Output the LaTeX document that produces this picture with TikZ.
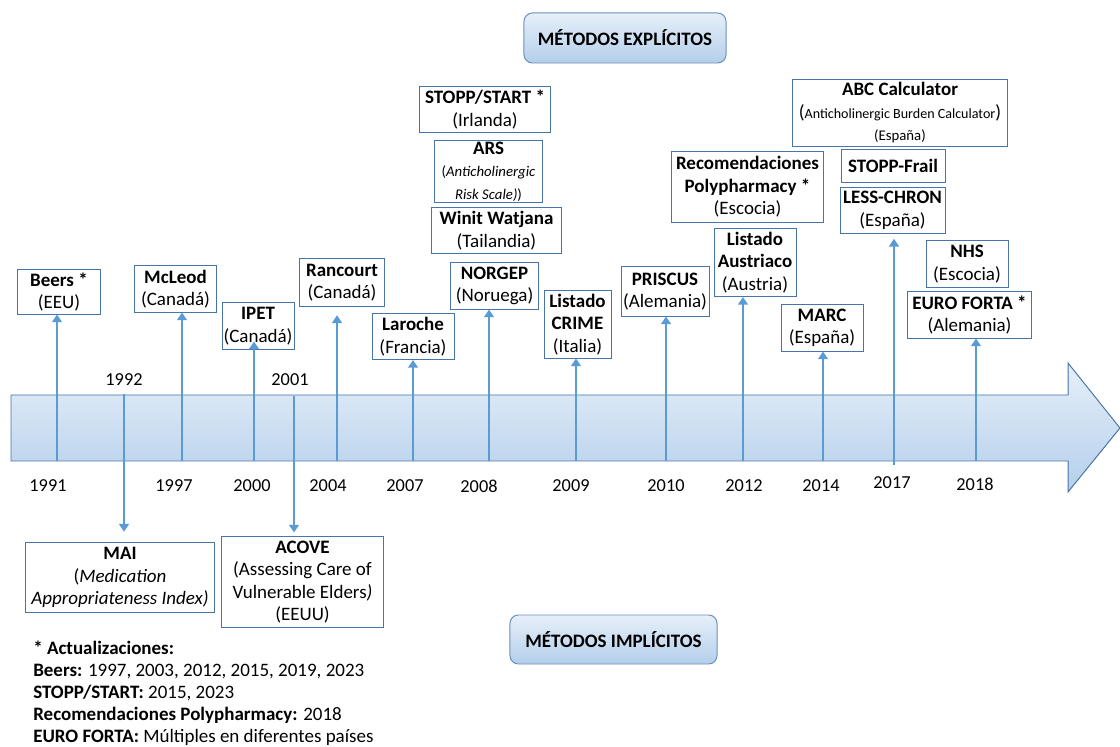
\documentclass[tikz,border=0pt]{standalone}
\usepackage{fontspec}
\setmainfont{Carlito}
\usepackage{tikz}
\usetikzlibrary{arrows.meta}
\usetikzlibrary{positioning}

\definecolor{lineablue}{RGB}{91,155,213}
\definecolor{bordeblue}{RGB}{72,116,170}
\definecolor{claroblue}{RGB}{230,239,249}
\definecolor{medioblue}{RGB}{180,207,235}

\tikzset{
  metodo/.style={draw=bordeblue, line width=0.7pt, fill=white, align=center, inner sep=1pt,
    font=\fontsize{13.5}{16}\selectfont},
  anio/.style={font=\fontsize{13}{15.5}\selectfont, inner sep=0pt},
  flecha/.style={draw=lineablue, line width=2.1pt, -{Triangle[width=7pt,length=5.5pt]}},
  titulo/.style={draw=bordeblue!80, line width=0.7pt, rounded corners=6pt, top color=claroblue,
    bottom color=medioblue, font=\fontsize{13.5}{16}\selectfont\bfseries}
}

\begin{document}
\begin{tikzpicture}[x=0.025cm, y=-0.025cm]
 \useasboundingbox (0,0) rectangle (1120,747);

 % linea de tiempo
 \shade[top color=claroblue, bottom color=medioblue, draw=bordeblue, line width=0.7pt]
   (11,395) -- (1068,395) -- (1068,363) -- (1120,428) -- (1068,492) -- (1068,461) -- (11,461) -- cycle;

 % titulos
 \node[titulo, minimum width=5.05cm, minimum height=1.25cm] (explicitos) at (625,38) {MÉTODOS EXPLÍCITOS};
 \node[titulo, minimum width=5.175cm, minimum height=1.225cm] (implicitos) at (613.5,639.5) {MÉTODOS IMPLÍCITOS};

 % puntos de partida
 \coordinate (t1991) at (57,461);
 \coordinate (t1997) at (182,461);
 \coordinate (t2000) at (254,461);
 \coordinate (t2004) at (337,461);
 \coordinate (t2007) at (413,461);
 \coordinate (t2008) at (489,461);
 \coordinate (t2009) at (576,461);
 \coordinate (t2010) at (666,461);
 \coordinate (t2012) at (743,461);
 \coordinate (t2014) at (823,461);
 \coordinate (t2017) at (894,465);
 \coordinate (t2018) at (976,461);
 \coordinate (t1992) at (124,394);
 \coordinate (t2001) at (294,396);

 % anios
 \node[anio] (y1991) at (48,486) {1991};
 \node[anio] (y1997) at (174,486) {1997};
 \node[anio] (y2000) at (252,486) {2000};
 \node[anio] (y2004) at (328,486) {2004};
 \node[anio] (y2007) at (405,486) {2007};
 \node[anio] (y2008) at (479,486) {2008};
 \node[anio] (y2009) at (571,486) {2009};
 \node[anio] (y2010) at (666,486) {2010};
 \node[anio] (y2012) at (744,486) {2012};
 \node[anio] (y2014) at (821,486) {2014};
 \node[anio] (y2017) at (892,483) {2017};
 \node[anio] (y2018) at (975,484) {2018};
 \node[anio] (y1992) at (124,380) {1992};
 \node[anio] (y2001) at (290,380) {2001};

 % metodos explicitos
 \node[metodo, minimum width=2.05cm, minimum height=1.1cm] (beers) at (59,292) {\textbf{Beers *}\\(EEU)};
 \node[metodo, minimum width=2.025cm, minimum height=1.15cm] (mcleod) at (175.5,289) {\textbf{McLeod}\\(Canadá)};
 \node[metodo, minimum width=1.8cm, minimum height=1.15cm] (ipet) at (258,326) {\textbf{IPET}\\(Canadá)};
 \node[metodo, minimum width=2.1cm, minimum height=1.175cm] (rancourt) at (342,282.5) {\textbf{Rancourt}\\(Canadá)};
 \node[metodo, minimum width=2.05cm, minimum height=1.15cm] (laroche) at (413,336.5) {\textbf{Laroche}\\(Francia)};
 \node[metodo, minimum width=2.2cm, minimum height=1.15cm] (norgep) at (494.5,286) {\textbf{NORGEP}\\(Noruega)};
 \node[metodo, minimum width=1.675cm, minimum height=1.675cm] (crime) at (577.5,324.5) {\textbf{Listado}\\\textbf{CRIME}\\(Italia)};
 \node[metodo, minimum width=3.25cm, minimum height=1.125cm] (stopp) at (485,109.5) {\textbf{STOPP/START *}\\(Irlanda)};
 \node[metodo, minimum width=2.675cm, minimum height=1.475cm] (ars) at (488.5,171.5)
   {\textbf{ARS}\\{\fontsize{10.5}{13}\selectfont(\textit{Anticholinergic}}\\{\fontsize{10.5}{13}\selectfont\textit{Risk Scale)})}};
 \node[metodo, minimum width=3.225cm, minimum height=1.125cm] (winit) at (496.5,230.5) {\textbf{Winit Watjana}\\(Tailandia)};
 \node[metodo, minimum width=2.2cm, minimum height=1.225cm] (priscus) at (665,291.5) {\textbf{PRISCUS}\\(Alemania)};
 \node[metodo, minimum width=2.05cm, minimum height=1.7cm] (austriaco) at (755,262.5) {\textbf{Listado}\\\textbf{Austriaco}\\(Austria)};
 \node[metodo, minimum width=2.05cm, minimum height=1.15cm] (marc) at (822,328) {\textbf{MARC}\\(España)};
 \node[metodo, minimum width=3.775cm, minimum height=1.75cm] (recomendaciones) at (747.5,187) {\textbf{Recomendaciones}\\\textbf{Polypharmacy *}\\(Escocia)};
 \node[metodo, minimum width=5.375cm, minimum height=1.65cm] (abc) at (900,113)
   {\textbf{ABC Calculator}\\({\fontsize{10}{13}\selectfont Anticholinergic Burden Calculator})\\{\fontsize{10.5}{13}\selectfont(España)}};
 \node[metodo, minimum width=2.6cm, minimum height=0.8cm] (frail) at (893,166) {\textbf{STOPP-Frail}};
 \node[metodo, minimum width=2.625cm, minimum height=1.15cm] (lesschron) at (892.5,210.5) {\textbf{LESS-CHRON}\\(España)};
 \node[metodo, minimum width=2.05cm, minimum height=1.15cm] (nhs) at (967,264) {\textbf{NHS}\\(Escocia)};
 \node[metodo, minimum width=3.075cm, minimum height=1.15cm] (euroforta) at (969.5,315) {\textbf{EURO FORTA *}\\(Alemania)};

 % metodos implicitos
 \node[metodo, minimum width=4.7cm, minimum height=1.725cm] (mai) at (120,577.5)
   {\textbf{MAI}\\(\textit{Medication}\\\textit{Appropriateness Index)}};
 \node[metodo, minimum width=4.025cm, minimum height=2.25cm] (acove) at (302.5,582)
   {\textbf{ACOVE}\\(Assessing Care of\\Vulnerable Elders\textit{)}\\(EEUU)};

 % flechas
 \draw[flecha] (t1991) -- (beers.south -| t1991);
 \draw[flecha] (t1997) -- (mcleod.south -| t1997);
 \draw[flecha, shorten >=-0.2cm] (t2000) -- (ipet.south -| t2000);
 \draw[flecha, shorten >=0.22cm] (t2004) -- (rancourt.south -| t2004);
 \draw[flecha] (t2007) -- (laroche.south -| t2007);
 \draw[flecha] (t2008) -- (norgep.south -| t2008);
 \draw[flecha] (t2009) -- (crime.south -| t2009);
 \draw[flecha] (t2010) -- (priscus.south -| t2010);
 \draw[flecha] (t2012) -- (austriaco.south -| t2012);
 \draw[flecha] (t2014) -- (marc.south -| t2014);
 \draw[flecha, shorten >=0.12cm] (t2017) -- (lesschron.south -| t2017);
 \draw[flecha] (t2018) -- (euroforta.south -| t2018);
 \draw[flecha, shorten >=0.27cm] (t1992) -- (mai.north -| t1992);
 \draw[flecha, shorten >=0.1cm] (t2001) -- (acove.north -| t2001);

 % actualizaciones
 \node[anchor=north west, align=left, inner sep=0pt, font=\fontsize{13.5}{15.6}\selectfont] (notas) at (33,641)
   {\textbf{* Actualizaciones:}\\
    \textbf{Beers:} 1997, 2003, 2012, 2015, 2019, 2023\\
    \textbf{STOPP/START:} 2015, 2023\\
    \textbf{Recomendaciones Polypharmacy:} 2018\\
    \textbf{EURO FORTA:} Múltiples en diferentes países};
\end{tikzpicture}
\end{document}
